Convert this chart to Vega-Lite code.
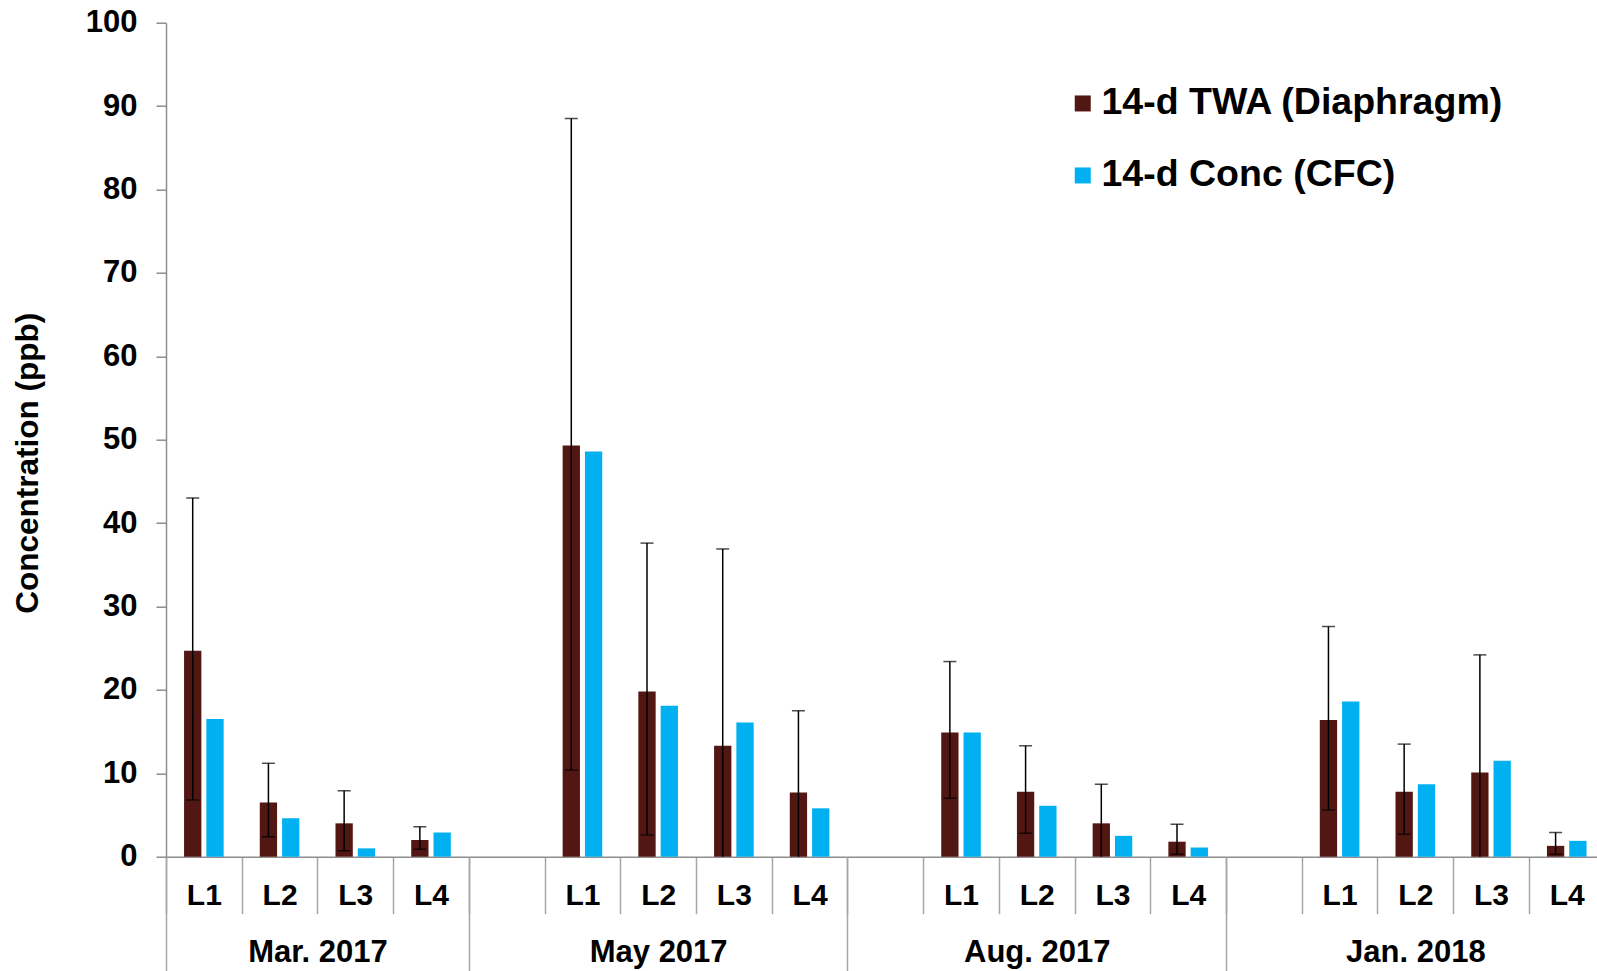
{
  "$schema": "https://vega.github.io/schema/vega-lite/v6.json",
  "width": 1431,
  "height": 834,
  "autosize": {"type": "none"},
  "padding": {"left": 166, "top": 22.7, "right": 0, "bottom": 114.3},
  "config": {
    "view": {"stroke": null},
    "font": "Liberation Sans",
    "axisY": {
      "grid": false,
      "domainColor": "#8e8e8e",
      "domainWidth": 1.5,
      "tickColor": "#8e8e8e",
      "tickWidth": 1.5,
      "tickSize": 10,
      "labelFont": "Liberation Sans",
      "labelFontSize": 31,
      "labelFontWeight": "bold",
      "labelColor": "#000000",
      "labelPadding": 19,
      "titleFont": "Liberation Sans",
      "titleFontSize": 31.5,
      "titleFontWeight": "bold",
      "titleColor": "#000000",
      "titleX": -122,
      "titleY": 440
    }
  },
  "datasets": {
    "bars": [
      {"slot": "Mar|L1", "series": "14-d TWA (Diaphragm)", "value": 24.7, "lo": 6.8, "hi": 43.0},
      {"slot": "Mar|L1", "series": "14-d Conc  (CFC)", "value": 16.5},
      {"slot": "Mar|L2", "series": "14-d TWA (Diaphragm)", "value": 6.5, "lo": 2.4, "hi": 11.2},
      {"slot": "Mar|L2", "series": "14-d Conc  (CFC)", "value": 4.6},
      {"slot": "Mar|L3", "series": "14-d TWA (Diaphragm)", "value": 4.0, "lo": 0.7, "hi": 7.9},
      {"slot": "Mar|L3", "series": "14-d Conc  (CFC)", "value": 1.0},
      {"slot": "Mar|L4", "series": "14-d TWA (Diaphragm)", "value": 2.0, "lo": 0.9, "hi": 3.6},
      {"slot": "Mar|L4", "series": "14-d Conc  (CFC)", "value": 2.9},
      {"slot": "May|L1", "series": "14-d TWA (Diaphragm)", "value": 49.3, "lo": 10.4, "hi": 88.5},
      {"slot": "May|L1", "series": "14-d Conc  (CFC)", "value": 48.6},
      {"slot": "May|L2", "series": "14-d TWA (Diaphragm)", "value": 19.8, "lo": 2.6, "hi": 37.6},
      {"slot": "May|L2", "series": "14-d Conc  (CFC)", "value": 18.1},
      {"slot": "May|L3", "series": "14-d TWA (Diaphragm)", "value": 13.3, "lo": -10.3, "hi": 36.9},
      {"slot": "May|L3", "series": "14-d Conc  (CFC)", "value": 16.1},
      {"slot": "May|L4", "series": "14-d TWA (Diaphragm)", "value": 7.7, "lo": -2.1, "hi": 17.5},
      {"slot": "May|L4", "series": "14-d Conc  (CFC)", "value": 5.8},
      {"slot": "Aug|L1", "series": "14-d TWA (Diaphragm)", "value": 14.9, "lo": 7.0, "hi": 23.4},
      {"slot": "Aug|L1", "series": "14-d Conc  (CFC)", "value": 14.9},
      {"slot": "Aug|L2", "series": "14-d TWA (Diaphragm)", "value": 7.8, "lo": 2.8, "hi": 13.3},
      {"slot": "Aug|L2", "series": "14-d Conc  (CFC)", "value": 6.1},
      {"slot": "Aug|L3", "series": "14-d TWA (Diaphragm)", "value": 4.0, "lo": -0.7, "hi": 8.7},
      {"slot": "Aug|L3", "series": "14-d Conc  (CFC)", "value": 2.5},
      {"slot": "Aug|L4", "series": "14-d TWA (Diaphragm)", "value": 1.8, "lo": 0.3, "hi": 3.9},
      {"slot": "Aug|L4", "series": "14-d Conc  (CFC)", "value": 1.1},
      {"slot": "Jan|L1", "series": "14-d TWA (Diaphragm)", "value": 16.4, "lo": 5.6, "hi": 27.6},
      {"slot": "Jan|L1", "series": "14-d Conc  (CFC)", "value": 18.6},
      {"slot": "Jan|L2", "series": "14-d TWA (Diaphragm)", "value": 7.8, "lo": 2.7, "hi": 13.5},
      {"slot": "Jan|L2", "series": "14-d Conc  (CFC)", "value": 8.7},
      {"slot": "Jan|L3", "series": "14-d TWA (Diaphragm)", "value": 10.1, "lo": -4.0, "hi": 24.2},
      {"slot": "Jan|L3", "series": "14-d Conc  (CFC)", "value": 11.5},
      {"slot": "Jan|L4", "series": "14-d TWA (Diaphragm)", "value": 1.3, "lo": 0.3, "hi": 2.9},
      {"slot": "Jan|L4", "series": "14-d Conc  (CFC)", "value": 1.9}
    ],
    "groups": [
      {"group": "Mar. 2017", "start": 0, "end": 4},
      {"group": "May 2017", "start": 4, "end": 9},
      {"group": "Aug. 2017", "start": 9, "end": 14},
      {"group": "Jan. 2018", "start": 14, "end": 19}
    ]
  },
  "layer": [
    {
      "data": {"name": "bars"},
      "encoding": {
        "x": {
          "field": "slot",
          "type": "nominal",
          "sort": null,
          "scale": {
            "type": "band",
            "domain": ["Mar|L1","Mar|L2","Mar|L3","Mar|L4","May|","May|L1","May|L2","May|L3","May|L4","Aug|","Aug|L1","Aug|L2","Aug|L3","Aug|L4","Jan|","Jan|L1","Jan|L2","Jan|L3","Jan|L4"],
            "paddingInner": 0,
            "paddingOuter": 0,
            "range": [0, 1438.6]
          },
          "axis": {
            "title": null,
            "orient": "bottom",
            "labelExpr": "split(datum.value, '|')[1]",
            "labelAngle": 0,
            "tickBand": "extent",
            "tickSize": 57,
            "tickColor": "#a6a6a6",
            "tickWidth": 1.5,
            "domainColor": "#8e8e8e",
            "domainWidth": 1.5,
            "labelPadding": -33,
            "labelFont": "Liberation Sans",
            "labelFontSize": 30,
            "labelFontWeight": "bold",
            "labelColor": "#000000"
          }
        },
        "xOffset": {
          "field": "series",
          "type": "nominal",
          "sort": null,
          "scale": {"domain": ["14-d TWA (Diaphragm)", "14-d Conc  (CFC)"], "paddingInner": 0.224, "paddingOuter": 0.81}
        }
      },
      "layer": [
        {
          "mark": {"type": "bar"},
          "encoding": {
            "y": {
              "field": "value",
              "type": "quantitative",
              "title": "Concentration (ppb)",
              "scale": {"domain": [0, 100], "nice": false},
              "axis": {"values": [0, 10, 20, 30, 40, 50, 60, 70, 80, 90, 100]}
            },
            "color": {
              "field": "series",
              "type": "nominal",
              "sort": null,
              "scale": {"domain": ["14-d TWA (Diaphragm)", "14-d Conc  (CFC)"], "range": ["#521713", "#00b0f0"]},
              "legend": {
                "orient": "none",
                "legendX": 898,
                "legendY": 62,
                "title": null,
                "symbolType": "square",
                "symbolSize": 256,
                "symbolStrokeWidth": 0,
                "labelFont": "Liberation Sans",
                "labelFontSize": 37.5,
                "labelFontWeight": "bold",
                "labelColor": "#000000",
                "labelOffset": 0,
                "rowPadding": 33,
                "padding": 0,
                "labelLimit": 600
              }
            }
          }
        },
        {
          "transform": [{"filter": "isValid(datum.hi)"}],
          "mark": {"type": "rule", "color": "#000000", "strokeWidth": 1.5, "clip": true},
          "encoding": {
            "y": {"field": "lo", "type": "quantitative", "title": "Concentration (ppb)"},
            "y2": {"field": "hi"}
          }
        },
        {
          "transform": [{"filter": "isValid(datum.hi)"}],
          "mark": {"type": "tick", "orient": "horizontal", "size": 13, "thickness": 1.5, "color": "#000000", "clip": true},
          "encoding": {
            "y": {"field": "lo", "type": "quantitative", "title": "Concentration (ppb)"}
          }
        },
        {
          "transform": [{"filter": "isValid(datum.hi)"}],
          "mark": {"type": "tick", "orient": "horizontal", "size": 13, "thickness": 1.5, "color": "#000000", "clip": true},
          "encoding": {
            "y": {"field": "hi", "type": "quantitative", "title": "Concentration (ppb)"}
          }
        }
      ]
    },
    {
      "data": {"name": "groups"},
      "mark": {"type": "rule", "opacity": 0},
      "encoding": {
        "x": {
          "field": "start",
          "type": "quantitative",
          "scale": {"domain": [0, 19], "range": [0, 1438.6], "nice": false, "zero": false},
          "axis": {
            "title": null,
            "orient": "bottom",
            "grid": false,
            "domain": false,
            "values": [0, 2, 4, 6.5, 9, 11.5, 14, 16.5, 19],
            "labelExpr": "datum.value == 2 ? 'Mar. 2017' : datum.value == 6.5 ? 'May 2017' : datum.value == 11.5 ? 'Aug. 2017' : datum.value == 16.5 ? 'Jan. 2018' : ''",
            "tickSize": 115,
            "tickColor": "#a6a6a6",
            "tickWidth": 1.5,
            "tickOpacity": {"condition": {"test": "datum.value == 0 || datum.value == 4 || datum.value == 9 || datum.value == 14 || datum.value == 19", "value": 1}, "value": 0},
            "labelPadding": -34,
            "labelFont": "Liberation Sans",
            "labelFontSize": 31,
            "labelFontWeight": "bold",
            "labelColor": "#000000",
            "labelAngle": 0,
            "labelOverlap": false
          }
        }
      }
    }
  ],
  "resolve": {"scale": {"x": "independent"}, "axis": {"x": "independent"}}
}
